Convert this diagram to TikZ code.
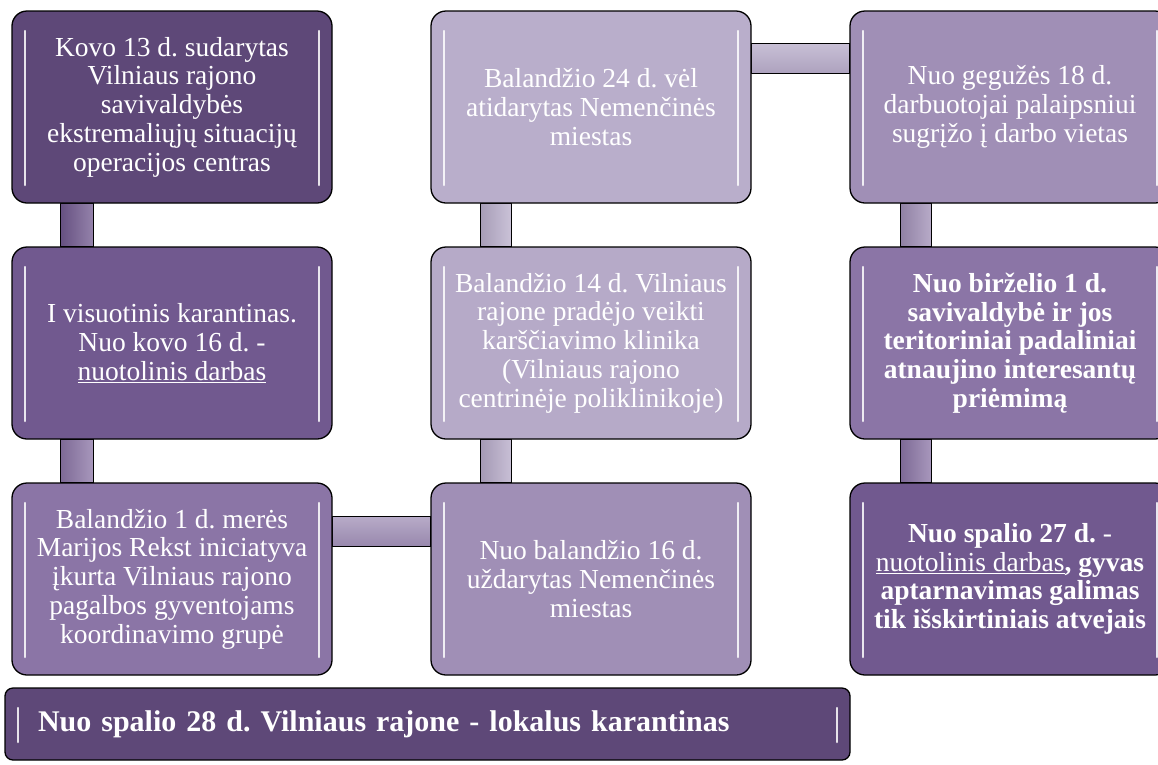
\documentclass[tikz,border=0pt]{standalone}
\usepackage{fontspec}
\setmainfont{Liberation Serif}
\usetikzlibrary{positioning,backgrounds}
\frenchspacing

\definecolor{stepA}{HTML}{5E4878}
\definecolor{stepB}{HTML}{71598F}
\definecolor{stepC}{HTML}{8B75A6}
\definecolor{stepD}{HTML}{A08FB6}
\definecolor{stepE}{HTML}{B6AAC8}
\definecolor{stepF}{HTML}{B9AECB}

\tikzset{
  hilite/.style={white, opacity=.85, line width=2.5pt, line cap=round},
  evt/.style={draw=black, line width=1.3pt, rounded corners=15pt, fill=#1,
    minimum width=320pt, minimum height=192pt, inner sep=0pt, align=center,
    text=white, font=\fontsize{27.5}{28.7}\selectfont,
    path picture={
      \draw[hilite] ([shift={(13pt,-20pt)}]path picture bounding box.north west)
        -- ([shift={(13pt,18pt)}]path picture bounding box.south west);
      \draw[hilite] ([shift={(-13pt,-20pt)}]path picture bounding box.north east)
        -- ([shift={(-13pt,18pt)}]path picture bounding box.south east);}},
  vlink/.style={draw=black, line width=1.3pt, left color=#1!90!black, right color=#1!75!white},
  hlink/.style={draw=black, line width=1.3pt, top color=#1!75!white, bottom color=#1!95!black}
}

\begin{document}
\begin{tikzpicture}[x=1pt, y=-1pt, node distance=236pt and 419pt, on grid]
  \useasboundingbox (0,0) rectangle (1158,764);

  \node[evt=stepA] (kovo13) at (172,107)
    {Kovo 13 d. sudarytas\\Vilniaus rajono\\savivaldybės\\ekstremaliųjų situacijų\\operacijos centras};
  \node[evt=stepB] (karant) [below=of kovo13]
    {I visuotinis karantinas.\\Nuo kovo 16 d. -\\\underline{nuotolinis darbas}};
  \node[evt=stepC] (grupe) [below=of karant]
    {Balandžio 1 d. merės\\Marijos Rekst iniciatyva\\įkurta Vilniaus rajono\\pagalbos gyventojams\\koordinavimo grupė};
  \node[evt=stepD] (uzdar) [right=of grupe]
    {Nuo balandžio 16 d.\\uždarytas Nemenčinės\\miestas};
  \node[evt=stepE] (klinika) [above=of uzdar]
    {Balandžio 14 d. Vilniaus\\rajone pradėjo veikti\\karščiavimo klinika\\(Vilniaus rajono\\centrinėje poliklinikoje)};
  \node[evt=stepF] (atidar) [above=of klinika]
    {Balandžio 24 d. vėl\\atidarytas Nemenčinės\\miestas};
  \node[evt=stepD] (geguz) [right=of atidar]
    {Nuo gegužės 18 d.\\darbuotojai palaipsniui\\sugrįžo į darbo vietas};
  \node[evt=stepC] (birz) [below=of geguz]
    {\bfseries Nuo birželio 1 d.\\\bfseries savivaldybė ir jos\\\bfseries teritoriniai padaliniai\\\bfseries atnaujino interesantų\\\bfseries priėmimą};
  \node[evt=stepB] (spal27) [below=of birz]
    {\textbf{Nuo spalio 27 d.} -\\\underline{nuotolinis darbas}\textbf{, gyvas}\\\bfseries aptarnavimas galimas\\\bfseries tik išskirtiniais atvejais};

  \node[evt=stepA, rounded corners=8pt, minimum width=845pt, minimum height=72pt,
    text width=779pt, inner xsep=33pt, align=left, font=\bfseries\fontsize{30}{33}\selectfont] (spal28) at (427.5,724)
    {Nuo spalio 28 d. Vilniaus rajone - lokalus karantinas};

  \begin{scope}[on background layer]
    \draw[vlink=stepB] ([xshift=49pt]kovo13.south west) rectangle ([xshift=82pt]karant.north west);
    \draw[vlink=stepC] ([xshift=49pt]karant.south west) rectangle ([xshift=82pt]grupe.north west);
    \draw[hlink=stepD] ([yshift=-34pt]grupe.north east) rectangle ([yshift=-64pt]uzdar.north west);
    \draw[vlink=stepE] ([xshift=50pt]klinika.south west) rectangle ([xshift=81pt]uzdar.north west);
    \draw[vlink=stepF] ([xshift=50pt]atidar.south west) rectangle ([xshift=81pt]klinika.north west);
    \draw[hlink=stepE] ([yshift=-33pt]atidar.north east) rectangle ([yshift=-63pt]geguz.north west);
    \draw[vlink=stepD] ([xshift=51pt]geguz.south west) rectangle ([xshift=82pt]birz.north west);
    \draw[vlink=stepC] ([xshift=51pt]birz.south west) rectangle ([xshift=82pt]spal27.north west);
  \end{scope}
\end{tikzpicture}
\end{document}
